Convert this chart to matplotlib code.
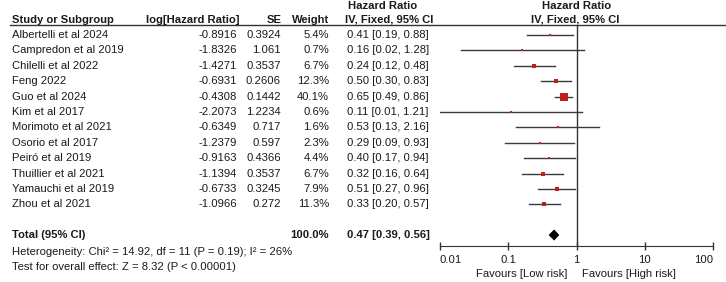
import matplotlib
matplotlib.use('Agg')
import matplotlib.pyplot as plt
import numpy as np

plt.rcParams['font.family'] = ['Liberation Sans', 'DejaVu Sans']

studies = ['Albertelli et al 2024', 'Campredon et al 2019', 'Chilelli et al 2022',
           'Feng 2022', 'Guo et al 2024', 'Kim et al 2017', 'Morimoto et al 2021',
           'Osorio et al 2017', 'Peiró et al 2019', 'Thuillier et al 2021',
           'Yamauchi et al 2019', 'Zhou et al 2021']
log_hr = ['-0.8916', '-1.8326', '-1.4271', '-0.6931', '-0.4308', '-2.2073',
          '-0.6349', '-1.2379', '-0.9163', '-1.1394', '-0.6733', '-1.0966']
se = ['0.3924', '1.061', '0.3537', '0.2606', '0.1442', '1.2234',
      '0.717', '0.597', '0.4366', '0.3537', '0.3245', '0.272']
weight = [5.4, 0.7, 6.7, 12.3, 40.1, 0.6, 1.6, 2.3, 4.4, 6.7, 7.9, 11.3]
hr = [0.41, 0.16, 0.24, 0.50, 0.65, 0.11, 0.53, 0.29, 0.40, 0.32, 0.51, 0.33]
lo = [0.19, 0.02, 0.12, 0.30, 0.49, 0.01, 0.13, 0.09, 0.17, 0.16, 0.27, 0.20]
hi = [0.88, 1.28, 0.48, 0.83, 0.86, 1.21, 2.16, 0.93, 0.94, 0.64, 0.96, 0.57]
total_hr, total_lo, total_hi = 0.47, 0.39, 0.56
ticks = [0.01, 0.1, 1, 10, 100]
tick_labels = ['0.01', '0.1', '1', '10', '100']

W, H = 726, 282
fig = plt.figure(figsize=(W / 100, H / 100), dpi=100)

# filas en unidades de "fila", pixel y = 35 + 15.4*fila
step = 15.4
y0 = 35
def row(px):
    return (px - y0) / step

ylim = (row(H), row(0))
n = len(studies)
total_row = row(235)
axis_row = row(246)
txt = '#1a1a1a'
fs = 8.1

# capa de texto en pixeles
ax0 = fig.add_axes([0, 0, 1, 1])
ax0.set_xlim(0, W)
ax0.set_ylim(*ylim)
ax0.axis('off')

ax0.text(348, row(6), 'Hazard Ratio', fontsize=fs, fontweight='bold', color=txt, va='center')
ax0.text(577, row(6), 'Hazard Ratio', fontsize=fs, fontweight='bold', color=txt, va='center', ha='center')
hy = row(20)
ax0.text(12, hy, 'Study or Subgroup', fontsize=fs, fontweight='bold', color=txt, va='center')
ax0.text(240, hy, 'log[Hazard Ratio]', fontsize=fs, fontweight='bold', color=txt, va='center', ha='right')
ax0.text(282, hy, 'SE', fontsize=fs, fontweight='bold', color=txt, va='center', ha='right')
ax0.text(329, hy, 'Weight', fontsize=fs, fontweight='bold', color=txt, va='center', ha='right')
ax0.text(345, hy, 'IV, Fixed, 95% CI', fontsize=fs, fontweight='bold', color=txt, va='center')
ax0.text(575, hy, 'IV, Fixed, 95% CI', fontsize=fs, fontweight='bold', color=txt, va='center', ha='center')
ax0.plot([10, W], [row(25), row(25)], color='#333333', lw=1)

for i in range(n):
    ax0.text(12, i, studies[i], fontsize=fs, color=txt, va='center')
    ax0.text(237, i, log_hr[i], fontsize=fs, color=txt, va='center', ha='right')
    ax0.text(281, i, se[i], fontsize=fs, color=txt, va='center', ha='right')
    ax0.text(329, i, '%.1f%%' % weight[i], fontsize=fs, color=txt, va='center', ha='right')
    ax0.text(347, i, '%.2f [%.2f, %.2f]' % (hr[i], lo[i], hi[i]), fontsize=fs, color=txt, va='center')

ax0.text(12, total_row, 'Total (95% CI)', fontsize=fs, fontweight='bold', color=txt, va='center')
ax0.text(329, total_row, '100.0%', fontsize=fs, fontweight='bold', color=txt, va='center', ha='right')
ax0.text(347, total_row, '%.2f [%.2f, %.2f]' % (total_hr, total_lo, total_hi),
         fontsize=fs, fontweight='bold', color=txt, va='center')
ax0.text(12, row(252), 'Heterogeneity: Chi² = 14.92, df = 11 (P = 0.19); I² = 26%',
         fontsize=fs, color=txt, va='center')
ax0.text(12, row(267), 'Test for overall effect: Z = 8.32 (P < 0.00001)',
         fontsize=fs, color=txt, va='center')
ax0.text(567, row(274), 'Favours [Low risk]', fontsize=fs, color=txt, va='center', ha='right')
ax0.text(582, row(274), 'Favours [High risk]', fontsize=fs, color=txt, va='center')

# forest plot
ax = fig.add_axes([440 / W, 0, (713 - 440) / W, 1])
ax.patch.set_alpha(0)
ax.set_xscale('log')
ax.set_xlim(0.01, 100)
ax.set_ylim(*ylim)
for s in ['top', 'left', 'right']:
    ax.spines[s].set_visible(False)
ax.spines['bottom'].set_position(('data', axis_row))
ax.spines['bottom'].set_color('#333333')
ax.set_yticks([])
ax.set_xticks(ticks)
ax.set_xticklabels(tick_labels, fontsize=fs, color=txt)
ax.xaxis.set_minor_locator(matplotlib.ticker.NullLocator())
ax.tick_params(axis='x', direction='inout', length=6, width=1, color='#333333', pad=3.5)
labs = ax.get_xticklabels()
labs[0].set_ha('left')
labs[-1].set_ha('right')

ax.vlines(1, row(25), axis_row, color='#333333', lw=1)
for i in range(n):
    ax.plot([lo[i], hi[i]], [i, i], color='#3a3a3a', lw=1)
    ms = max(5.8 * np.sqrt(weight[i] / 40.1), 1.5)
    ax.plot(hr[i], i, marker='s', ms=ms, color='#c0201c', mec='#c0201c', mew=0)

# rombo del total
d = 0.36
ax.fill([total_lo, total_hr, total_hi, total_hr],
        [total_row, total_row - d, total_row, total_row + d], color='black', lw=0)

plt.savefig('out.png', dpi=100)
